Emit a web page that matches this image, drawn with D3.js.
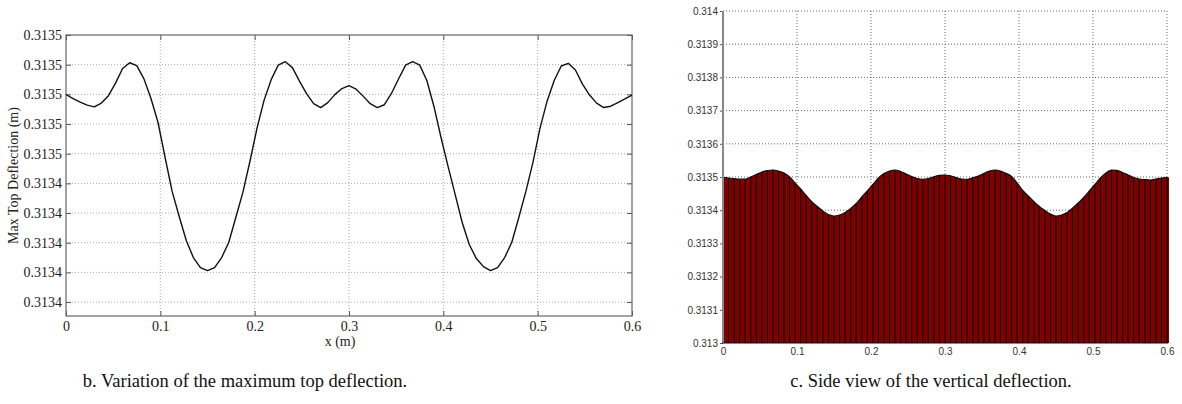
<!DOCTYPE html>
<html>
<head>
<meta charset="utf-8">
<script src="https://cdn.jsdelivr.net/npm/d3@7"></script>
<style>
  body { margin: 0; background: #fff; }
  svg { display: block; }
</style>
</head>
<body>
<svg id="chart"></svg>
<script>
// sample positions along the beam (m)
const xPos = [
  0, 0.0075, 0.015, 0.0225, 0.03, 0.0375, 0.045, 0.0525, 0.06, 0.0675,
  0.075, 0.0825, 0.09, 0.0975, 0.105, 0.1125, 0.12, 0.1275, 0.135, 0.1425,
  0.15, 0.1575, 0.165, 0.1725, 0.18, 0.1875, 0.195, 0.2025, 0.21, 0.2175,
  0.225, 0.2325, 0.24, 0.2475, 0.255, 0.2625, 0.27, 0.2775, 0.285, 0.2925,
  0.3, 0.3075, 0.315, 0.3225, 0.33, 0.3375, 0.345, 0.3525, 0.36, 0.3675,
  0.375, 0.3825, 0.39, 0.3975, 0.405, 0.4125, 0.42, 0.4275, 0.435, 0.4425,
  0.45, 0.4575, 0.465, 0.4725, 0.48, 0.4875, 0.495, 0.5025, 0.51, 0.5175,
  0.525, 0.5325, 0.54, 0.5475, 0.555, 0.5625, 0.57, 0.5775, 0.585, 0.5925,
  0.6
];

// b. max top deflection (m)
const maxDeflection = [
  0.31345499, 0.31345471, 0.31345447, 0.31345427, 0.31345416, 0.31345441, 0.31345491, 0.31345576, 0.31345674, 0.31345713,
  0.31345693, 0.31345606, 0.31345474, 0.31345312, 0.31345076, 0.31344846, 0.31344677, 0.31344515, 0.31344400, 0.31344332,
  0.31344312, 0.31344332, 0.31344400, 0.31344501, 0.31344670, 0.31344839, 0.31345049, 0.31345272, 0.31345461, 0.31345599,
  0.31345697, 0.31345720, 0.31345680, 0.31345589, 0.31345505, 0.31345437, 0.31345411, 0.31345444, 0.31345498, 0.31345539,
  0.31345559, 0.31345535, 0.31345488, 0.31345437, 0.31345411, 0.31345430, 0.31345506, 0.31345603, 0.31345697, 0.31345720,
  0.31345697, 0.31345593, 0.31345420, 0.31345211, 0.31345015, 0.31344826, 0.31344636, 0.31344488, 0.31344393, 0.31344339,
  0.31344312, 0.31344332, 0.31344400, 0.31344501, 0.31344670, 0.31344846, 0.31345042, 0.31345272, 0.31345454, 0.31345593,
  0.31345691, 0.31345709, 0.31345664, 0.31345569, 0.31345495, 0.31345441, 0.31345411, 0.31345420, 0.31345444, 0.31345469,
  0.31345495
];

// c. vertical deflection, side view (m)
const sideDeflection = [
  0.3134991, 0.3134970, 0.3134949, 0.3134934, 0.3134934, 0.3135000, 0.3135075, 0.3135151, 0.3135196, 0.3135211,
  0.3135181, 0.3135120, 0.3135000, 0.3134819, 0.3134639, 0.3134443, 0.3134256, 0.3134111, 0.3133976, 0.3133870,
  0.3133825, 0.3133855, 0.3133931, 0.3134051, 0.3134202, 0.3134398, 0.3134578, 0.3134774, 0.3134970, 0.3135105,
  0.3135181, 0.3135211, 0.3135166, 0.3135090, 0.3135015, 0.3134955, 0.3134931, 0.3134955, 0.3135006, 0.3135051,
  0.3135060, 0.3135036, 0.3134985, 0.3134940, 0.3134931, 0.3134976, 0.3135030, 0.3135105, 0.3135181, 0.3135211,
  0.3135181, 0.3135111, 0.3135015, 0.3134819, 0.3134593, 0.3134428, 0.3134262, 0.3134111, 0.3133991, 0.3133885,
  0.3133825, 0.3133855, 0.3133931, 0.3134066, 0.3134217, 0.3134382, 0.3134578, 0.3134774, 0.3134970, 0.3135120,
  0.3135211, 0.3135202, 0.3135135, 0.3135060, 0.3134985, 0.3134940, 0.3134922, 0.3134910, 0.3134940, 0.3134970,
  0.3134991
];

// ticks
const xTicks = [0, 0.1, 0.2, 0.3, 0.4, 0.5, 0.6];
const leftYTicks = [0.313459, 0.313457, 0.313455, 0.313453, 0.313451,
                    0.313449, 0.313447, 0.313445, 0.313443, 0.313441];
const leftYDomain = [0.31344006, 0.313459];
const rightYTicks = [0.313, 0.3131, 0.3132, 0.3133, 0.3134, 0.3135,
                     0.3136, 0.3137, 0.3138, 0.3139, 0.314];

const captions = ['b. Variation of the maximum top deflection.',
                  'c. Side view of the vertical deflection.'];

const width = 1182;
const height = 404;
const serif = '"Liberation Serif", "Times New Roman", serif';
const sans = '"Liberation Sans", Arial, sans-serif';

const svg = d3.select('#chart')
  .attr('width', width)
  .attr('height', height)
  .attr('viewBox', `0 0 ${width} ${height}`);

svg.append('rect').attr('width', width).attr('height', height).attr('fill', '#fff');

// ---------- left chart: max top deflection ----------
const mL = { left: 66, right: 632, top: 35, bottom: 316 };
const xL = d3.scaleLinear().domain([0, 0.6]).range([mL.left, mL.right]);
const yL = d3.scaleLinear().domain(leftYDomain).range([mL.bottom, mL.top]);

const gL = svg.append('g');

// dotted grid
gL.append('g')
  .selectAll('line')
  .data(xTicks.slice(1, -1))
  .join('line')
  .attr('x1', d => xL(d)).attr('x2', d => xL(d))
  .attr('y1', mL.top).attr('y2', mL.bottom)
  .attr('stroke', '#aaa')
  .attr('stroke-dasharray', '1,2');

gL.append('g')
  .selectAll('line')
  .data(leftYTicks.slice(1))
  .join('line')
  .attr('x1', mL.left).attr('x2', mL.right)
  .attr('y1', d => yL(d)).attr('y2', d => yL(d))
  .attr('stroke', '#aaa')
  .attr('stroke-dasharray', '1,2');

// axes (ticks point inward, as in MATLAB)
const styleAxis = (sel, font, size, color) => {
  sel.attr('font-family', null).attr('font-size', null);
  sel.select('.domain').remove();
  sel.selectAll('line').attr('stroke', '#555');
  sel.selectAll('text')
    .style('font-family', font)
    .style('font-size', size + 'px')
    .attr('fill', color);
};

gL.append('g')
  .attr('transform', `translate(${mL.left},0)`)
  .call(d3.axisLeft(yL).tickValues(leftYTicks).tickFormat(d3.format('.4f'))
    .tickSizeInner(-5).tickSizeOuter(0).tickPadding(4))
  .call(sel => styleAxis(sel, serif, 14, '#222'));

gL.append('g')
  .attr('transform', `translate(${mL.right},0)`)
  .call(d3.axisRight(yL).tickValues(leftYTicks).tickFormat('')
    .tickSizeInner(-5).tickSizeOuter(0))
  .call(sel => styleAxis(sel, serif, 14, '#222'));

gL.append('g')
  .attr('transform', `translate(0,${mL.bottom})`)
  .call(d3.axisBottom(xL).tickValues(xTicks).tickFormat(d3.format(''))
    .tickSizeInner(-5).tickSizeOuter(0).tickPadding(5))
  .call(sel => styleAxis(sel, serif, 14, '#222'));

gL.append('g')
  .attr('transform', `translate(0,${mL.top})`)
  .call(d3.axisTop(xL).tickValues(xTicks).tickFormat('')
    .tickSizeInner(-5).tickSizeOuter(0))
  .call(sel => styleAxis(sel, serif, 14, '#222'));

// box
gL.append('rect')
  .attr('x', mL.left).attr('y', mL.top)
  .attr('width', mL.right - mL.left).attr('height', mL.bottom - mL.top)
  .attr('fill', 'none')
  .attr('stroke', '#666')
  .attr('stroke-width', 1.2);

// deflection line
gL.append('path')
  .datum(xPos.map((x, i) => [x, maxDeflection[i]]))
  .attr('fill', 'none')
  .attr('stroke', '#111')
  .attr('stroke-width', 1.4)
  .attr('stroke-linejoin', 'round')
  .attr('d', d3.line().x(d => xL(d[0])).y(d => yL(d[1])));

// axis labels
gL.append('text')
  .attr('x', (mL.left + mL.right) / 2 - 9)
  .attr('y', 346)
  .attr('text-anchor', 'middle')
  .style('font-family', serif)
  .style('font-size', '14px')
  .attr('fill', '#222')
  .text('x (m)');

gL.append('text')
  .attr('transform', `translate(18,${(mL.top + mL.bottom) / 2}) rotate(-90)`)
  .attr('text-anchor', 'middle')
  .style('font-family', serif)
  .style('font-size', '14px')
  .attr('fill', '#222')
  .text('Max Top Deflection (m)');

// ---------- right chart: side view bars ----------
const mR = { left: 723, right: 1167, top: 11, bottom: 343 };
const xR = d3.scaleLinear().domain([0, 0.6]).range([mR.left, mR.right]);
const yR = d3.scaleLinear().domain([0.313, 0.314]).range([mR.bottom, mR.top]);
const step = xPos[1] - xPos[0];
const sidePts = xPos.map((x, i) => ({ x, v: sideDeflection[i] }));

const gR = svg.append('g');

svg.append('clipPath')
  .attr('id', 'clipR')
  .append('rect')
  .attr('x', mR.left).attr('y', mR.top)
  .attr('width', mR.right - mR.left + 2).attr('height', mR.bottom - mR.top);

// dotted grid (darker than left)
gR.append('g')
  .selectAll('line')
  .data(xTicks.slice(1))
  .join('line')
  .attr('x1', d => xR(d)).attr('x2', d => xR(d))
  .attr('y1', mR.top).attr('y2', mR.bottom)
  .attr('stroke', '#666')
  .attr('stroke-dasharray', '1,2');

gR.append('g')
  .selectAll('line')
  .data(rightYTicks.slice(1))
  .join('line')
  .attr('x1', mR.left).attr('x2', mR.right)
  .attr('y1', d => yR(d)).attr('y2', d => yR(d))
  .attr('stroke', '#666')
  .attr('stroke-dasharray', '1,2');

const bars = gR.append('g').attr('clip-path', 'url(#clipR)');

// bar fill, with a smooth top edge
const smoothTop = d3.area()
  .x(d => xR(d.x))
  .y0(yR(0.313))
  .y1(d => yR(d.v))
  .curve(d3.curveMonotoneX);

bars.append('path')
  .datum([{ x: -step / 2, v: sidePts[0].v }, ...sidePts, { x: 0.6 + step / 2, v: sidePts[sidePts.length - 1].v }])
  .attr('fill', '#800000')
  .attr('d', smoothTop);

// bar edges
bars.selectAll('line')
  .data(sidePts)
  .join('line')
  .attr('x1', d => xR(d.x)).attr('x2', d => xR(d.x))
  .attr('y1', yR(0.313))
  .attr('y2', d => yR(d.v))
  .attr('stroke', '#000')
  .attr('stroke-width', 1);

bars.append('path')
  .datum(sidePts)
  .attr('fill', 'none')
  .attr('stroke', '#111')
  .attr('stroke-width', 1.2)
  .attr('d', d3.line().x(d => xR(d.x)).y(d => yR(d.v)).curve(d3.curveMonotoneX));

// axes
gR.append('g')
  .attr('transform', `translate(${mR.left},0)`)
  .call(d3.axisLeft(yR).tickValues(rightYTicks).tickFormat(d3.format(''))
    .tickSizeInner(3).tickSizeOuter(0).tickPadding(2))
  .call(sel => styleAxis(sel, sans, 10, '#333'));

gR.append('g')
  .attr('transform', `translate(0,${mR.bottom})`)
  .call(d3.axisBottom(xR).tickValues(xTicks).tickFormat(d3.format(''))
    .tickSizeInner(0).tickSizeOuter(0).tickPadding(5))
  .call(sel => styleAxis(sel, sans, 10, '#333'));

gR.append('line')
  .attr('x1', mR.left).attr('x2', mR.left)
  .attr('y1', mR.top).attr('y2', mR.bottom)
  .attr('stroke', '#888')
  .attr('stroke-width', 2);

gR.append('line')
  .attr('x1', mR.left - 1).attr('x2', mR.right + 1)
  .attr('y1', mR.bottom).attr('y2', mR.bottom)
  .attr('stroke', '#111')
  .attr('stroke-width', 1.2);

// ---------- captions ----------
svg.selectAll('.caption')
  .data(captions)
  .join('text')
  .attr('class', 'caption')
  .attr('x', (d, i) => i === 0 ? 245 : 931)
  .attr('y', 387)
  .attr('text-anchor', 'middle')
  .style('font-family', serif)
  .style('font-size', '18.5px')
  .attr('fill', '#111')
  .text(d => d);
</script>
</body>
</html>
